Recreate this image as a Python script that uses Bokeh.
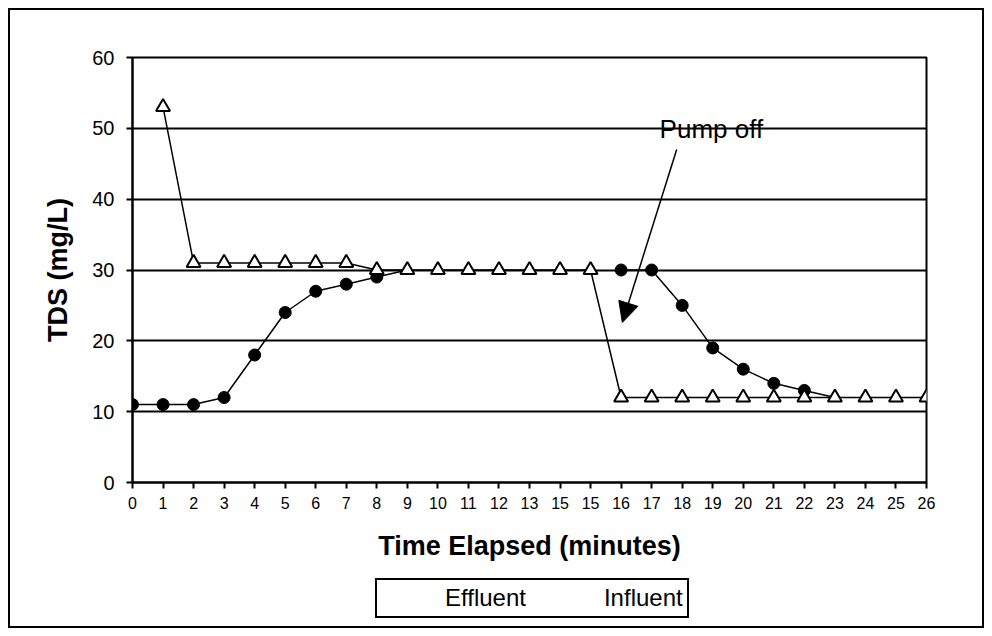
import numpy as np
from bokeh.plotting import figure
from bokeh.layouts import column
from bokeh.models import (Range1d, FixedTicker, Legend, LegendItem, Label,
                          Arrow, NormalHead, InlineStyleSheet)
from bokeh.embed import file_html
from bokeh.resources import INLINE

# ---- data ----
x_labels = ["0", "1", "2", "3", "4", "5", "6", "7", "8", "9", "10", "11", "12",
            "13", "15", "15", "16", "17", "18", "19", "20", "21", "22", "23",
            "24", "25", "26"]
effluent = [11, 11, 11, 12, 18, 24, 27, 28, 29, 30,
            None, None, None, None, None, None,
            30, 30, 25, 19, 16, 14, 13, 12,
            None, None, None]
influent = [None, 53, 31, 31, 31, 31, 31, 31, 30, 30, 30, 30, 30, 30, 30, 30,
            12, 12, 12, 12, 12, 12, 12, 12, 12, 12, 12]
y_ticks = [0, 10, 20, 30, 40, 50, 60]
series_names = ["Effluent", "Influent"]
annotation_text = "Pump off"

FONT = "Liberation Sans"

x = np.arange(len(x_labels))
eff = np.array([np.nan if v is None else v for v in effluent], dtype=float)
inf = np.array([np.nan if v is None else v for v in influent], dtype=float)
# effluent markers hidden where the influent triangle sits on them
eff_marker = np.where(np.isclose(eff, inf), np.nan, eff)

EFF_LINE = dict(line_color="black", line_width=1.5)
EFF_MARK = dict(marker="circle", size=12, fill_color="black", line_color="black")
INF_LINE = dict(line_color="black", line_width=1.5)
INF_MARK = dict(marker="triangle", size=14, fill_color="white",
                line_color="black", line_width=2)

# ---------------- main chart ----------------
p = figure(frame_width=794, frame_height=425, output_backend="svg",
           toolbar_location=None,
           x_range=Range1d(0, len(x_labels) - 1), y_range=Range1d(0, 60),
           min_border_left=132, min_border_right=66, min_border_top=57,
           min_border_bottom=92)
p.background_fill_color = "white"
p.border_fill_alpha = 0
p.outline_line_color = "black"
p.outline_line_width = 2

p.xgrid.visible = False
p.ygrid.ticker = FixedTicker(ticks=y_ticks)
p.ygrid.grid_line_color = "black"
p.ygrid.grid_line_width = 2

for ax in (p.xaxis[0], p.yaxis[0]):
    ax.axis_line_color = "black"
    ax.axis_line_width = 2
    ax.major_tick_line_color = "black"
    ax.major_tick_line_width = 2
    ax.major_tick_in = 0
    ax.major_tick_out = 6
    ax.minor_tick_line_color = None
    ax.major_label_text_font = FONT
    ax.major_label_text_color = "black"
    ax.axis_label_text_font = FONT
    ax.axis_label_text_font_style = "bold"
    ax.axis_label_text_color = "black"
    ax.axis_label_text_font_size = "27px"

p.xaxis.ticker = FixedTicker(ticks=list(range(len(x_labels))))
p.xaxis.major_label_overrides = {i: lab for i, lab in enumerate(x_labels)}
p.xaxis.major_label_text_font_size = "16px"
p.xaxis.major_label_standoff = 8
p.xaxis.axis_label = "Time Elapsed (minutes)"
p.xaxis.axis_label_standoff = 19

p.yaxis.ticker = FixedTicker(ticks=y_ticks)
p.yaxis.major_label_text_font_size = "20px"
p.yaxis.major_label_standoff = 12
p.yaxis.axis_label = "TDS (mg/L)"
p.yaxis.axis_label_standoff = 16

p.line(x, eff, **EFF_LINE)
p.scatter(x, eff_marker, **EFF_MARK)
p.line(x, inf, **INF_LINE)
p.scatter(x, inf, **INF_MARK)

p.add_layout(Arrow(end=NormalHead(size=20, fill_color="black", line_color="black"),
                   x_start=17.82, y_start=47.0, x_end=16.04, y_end=22.6,
                   line_color="black", line_width=1.5))
p.add_layout(Label(x=17.26, y=49.9, text=annotation_text, text_font=FONT,
                   text_font_size="26px", text_color="black",
                   text_baseline="alphabetic"))

# ---------------- legend strip ----------------
lg = figure(frame_width=992, frame_height=62, output_backend="svg",
            toolbar_location=None, x_axis_type=None, y_axis_type=None,
            x_range=Range1d(0, 1), y_range=Range1d(0, 1), min_border=0)
lg.background_fill_alpha = 0
lg.border_fill_alpha = 0
lg.outline_line_color = None
lg.grid.visible = False

k1 = lg.line([], [], **EFF_LINE)
k2 = lg.scatter([], [], **EFF_MARK)
k3 = lg.line([], [], **INF_LINE)
k4 = lg.scatter([], [], **INF_MARK)

legend = Legend(items=[LegendItem(label=series_names[0], renderers=[k1, k2]),
                       LegendItem(label=series_names[1], renderers=[k3, k4])],
                orientation="horizontal", location=(375, 18),
                label_text_font=FONT, label_text_font_size="24px",
                label_text_color="black",
                glyph_width=54, glyph_height=24, label_standoff=10, spacing=14,
                padding=4, margin=0, border_line_color="black",
                border_line_width=2, border_line_alpha=1,
                background_fill_color="white", background_fill_alpha=1)
lg.add_layout(legend)

layout = column(p, lg, spacing=0, stylesheets=[InlineStyleSheet(
    css=":host { outline: 2px solid black; outline-offset: -10px; }")])

open("out.html", "w").write(file_html(layout, INLINE))
